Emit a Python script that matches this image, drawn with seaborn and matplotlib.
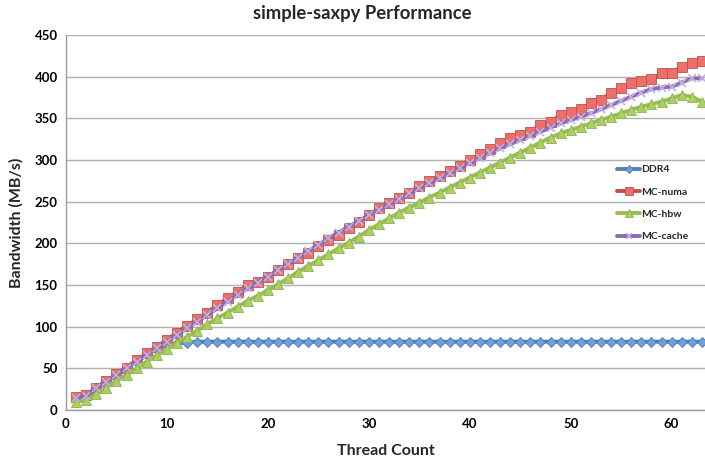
import matplotlib
matplotlib.use("Agg")
import matplotlib.pyplot as plt
import seaborn as sns
import pandas as pd

threads = list(range(1, 64))

ddr4 = [14, 18, 26, 34, 42, 50, 58, 66, 73, 78, 80, 81, 82, 82, 82, 82, 82, 82, 82, 82,
        82, 82, 82, 82, 82, 82, 82, 82, 82, 82, 82, 82, 82, 82, 82, 82, 82, 82, 82, 82,
        82, 82, 82, 82, 82, 82, 82, 82, 82, 82, 82, 82, 82, 82, 82, 82, 82, 82, 82, 82,
        82, 82, 82]
mc_numa = [16, 18, 27, 35, 43, 51, 60, 68, 76, 84, 93, 101, 109, 117, 126, 134, 142, 150, 154, 160,
           168, 175, 182, 189, 197, 204, 210, 218, 226, 234, 242, 248, 254, 261, 269, 275, 281, 287, 293, 300,
           307, 313, 320, 326, 330, 334, 342, 346, 354, 358, 361, 368, 372, 381, 387, 392, 395, 397, 404, 405,
           412, 416, 419]
mc_hbw = [10, 12, 19, 27, 35, 42, 50, 58, 66, 73, 81, 88, 95, 103, 110, 117, 124, 131, 137, 144,
          151, 158, 166, 173, 180, 187, 194, 201, 208, 216, 223, 230, 237, 243, 249, 255, 261, 267, 273, 279,
          285, 291, 297, 303, 309, 315, 321, 327, 332, 336, 340, 344, 348, 352, 356, 360, 364, 367, 370, 374,
          378, 376, 370]
mc_cache = [14, 17, 26, 34, 42, 50, 58, 66, 74, 82, 90, 98, 106, 114, 122, 130, 138, 146, 153, 160,
            168, 175, 183, 191, 198, 206, 213, 220, 227, 234, 240, 247, 253, 260, 266, 272, 278, 284, 290, 296,
            302, 308, 314, 319, 324, 329, 334, 339, 344, 348, 352, 356, 361, 366, 371, 376, 381, 385, 387, 388,
            393, 398, 398]

series_names = ["DDR4", "MC-numa", "MC-hbw", "MC-cache"]
x_ticks = [0, 10, 20, 30, 40, 50, 60]
y_ticks = [0, 50, 100, 150, 200, 250, 300, 350, 400, 450]

sns.set_theme(style="white")
plt.rcParams["font.family"] = ["Lato", "DejaVu Sans"]

fig = plt.figure(figsize=(7.05, 4.63), dpi=100)
ax = fig.add_axes([66 / 705, 53 / 463, 1 - 66 / 705, 375 / 463])

styles = {
    "DDR4": dict(color="#4F81BD", marker="D", markersize=5.5, markerfacecolor="#6FA0DA",
                 markeredgecolor="#4A7AB5", markeredgewidth=0.6),
    "MC-numa": dict(color="#C0504D", marker="s", markersize=6.5, markerfacecolor="#EE6E6A",
                    markeredgecolor="#C0504D", markeredgewidth=0.6),
    "MC-hbw": dict(color="#9BBB59", marker="^", markersize=7, markerfacecolor="#A9D15E",
                   markeredgecolor="#8FB04E", markeredgewidth=0.6),
    "MC-cache": dict(color="#8A6BB8", marker="x", markersize=5.5, markerfacecolor="#B9A6D6",
                     markeredgecolor="#C2B2DC", markeredgewidth=1.2),
}
values = {"DDR4": ddr4, "MC-numa": mc_numa, "MC-hbw": mc_hbw, "MC-cache": mc_cache}

for name in series_names:
    df = pd.DataFrame({"Thread Count": threads, "Bandwidth": values[name]})
    st = styles[name]
    sns.lineplot(data=df, x="Thread Count", y="Bandwidth", ax=ax, label=name,
                 linewidth=2.8, clip_on=True, **st)

ax.set_xlim(0, 63.3)
ax.set_ylim(0, 450)
ax.set_xticks(x_ticks)
ax.set_yticks(y_ticks)
ax.yaxis.grid(True, color="#B0B0B0", linewidth=1.0)
ax.xaxis.grid(False)
for side in ["top", "right"]:
    ax.spines[side].set_visible(False)
for side in ["left", "bottom"]:
    ax.spines[side].set_color("#9A9A9A")
    ax.spines[side].set_linewidth(1.0)
ax.tick_params(axis="both", length=0, labelsize=9.5, pad=6, colors="black")
for lab in ax.get_xticklabels() + ax.get_yticklabels():
    lab.set_fontweight("bold")

ax.set_xlabel("Thread Count", fontsize=11.5, fontweight="bold", labelpad=10)
ax.set_ylabel("Bandwidth (MB/s)", fontsize=11.5, fontweight="bold", labelpad=8)
fig.text(362 / 705, 1 - 13 / 463, "simple-saxpy Performance", ha="center", va="center",
         fontsize=13.3, fontweight="bold")

ax.get_legend().remove()
handles, labels = ax.get_legend_handles_labels()
leg = fig.legend(handles, labels, loc="upper left", bbox_to_anchor=(612 / 705, 1 - 160 / 463),
                 frameon=False, fontsize=7.5, labelspacing=1.25, handlelength=2.2,
                 handletextpad=0.1, borderpad=0, markerscale=0.8)
for t in leg.get_texts():
    t.set_fontweight("bold")

fig.savefig("out.png", dpi=100)
